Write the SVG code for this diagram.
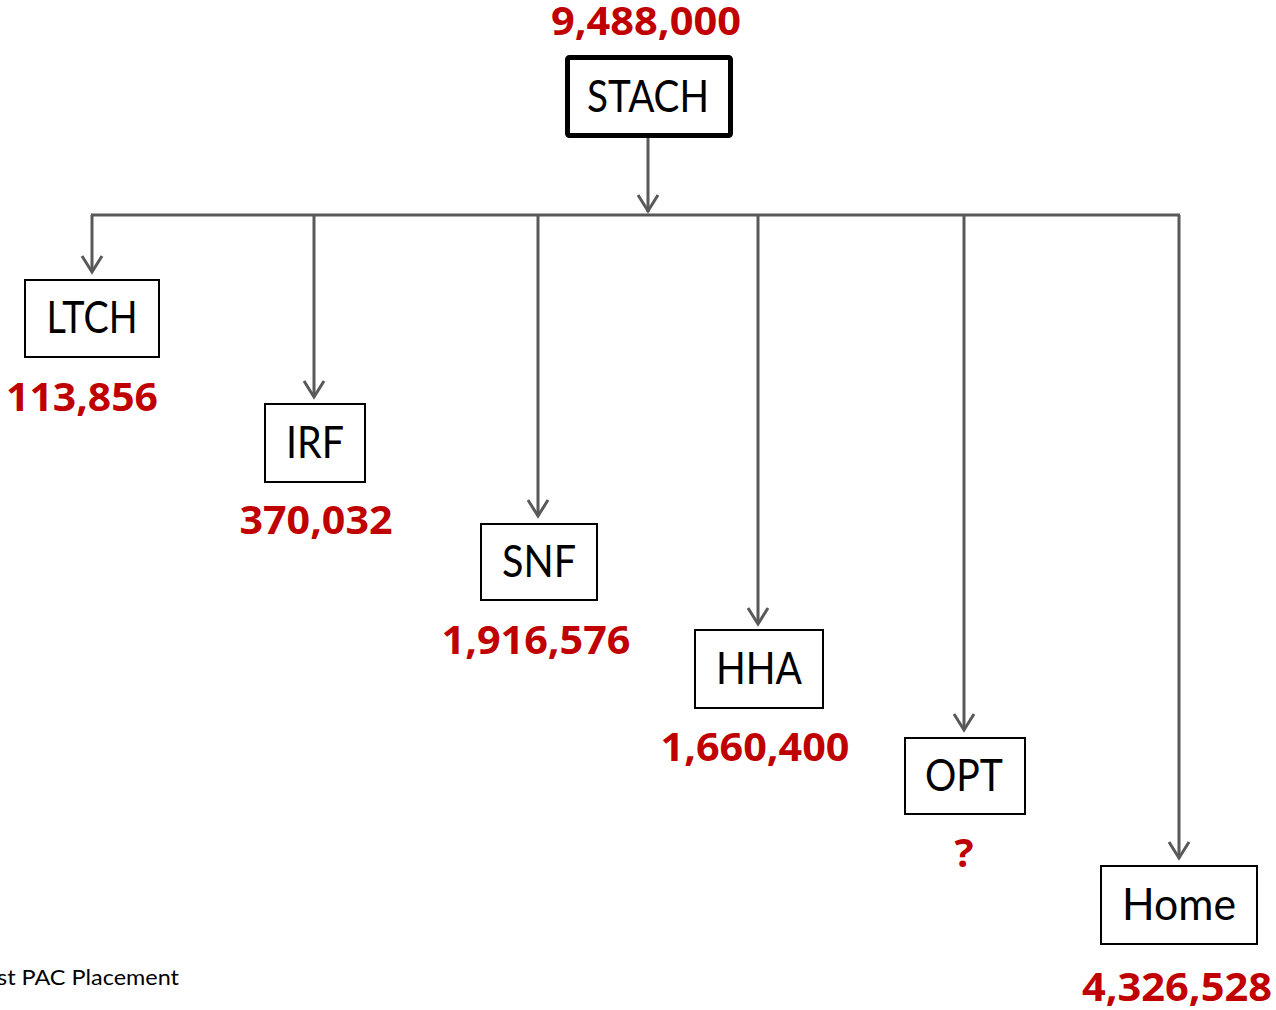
<svg xmlns="http://www.w3.org/2000/svg" width="1276" height="1010" viewBox="0 0 1276 1010">
  <style>
    .box { fill: #ffffff; stroke: #000000; stroke-width: 2; }
    .box-main { fill: #ffffff; stroke: #000000; stroke-width: 5; }
    .label { font-family: "Lato", "Liberation Sans", sans-serif; font-size: 44px; fill: #000000; text-anchor: middle; }
    .count { font-family: "Open Sans", "Liberation Sans", sans-serif; font-size: 40px; font-weight: bold; fill: #c00000; text-anchor: middle; }
    .note { font-family: "Lato", "Liberation Sans", sans-serif; font-size: 21px; fill: #000000; }
    .link { fill: none; stroke: #595959; stroke-width: 3; }
    .head { fill: none; stroke: #595959; stroke-width: 3; stroke-linejoin: miter; }
  </style>
  <defs>
    <!-- open V arrowhead, tip at the origin -->
    <path id="vhead" class="head" d="M-10,-17 L0,-1 L10,-17"/>
  </defs>

  <rect width="1276" height="1010" fill="#ffffff"/>

  <!-- connectors -->
  <g id="connectors">
    <path class="link" d="M648,138 V212"/>
    <use href="#vhead" x="648" y="212"/>
    <path class="link" d="M91,215 H1180"/>
    <path class="link" d="M92,215 V272"/>
    <use href="#vhead" x="92" y="273"/>
    <path class="link" d="M314,215 V397"/>
    <use href="#vhead" x="314" y="398"/>
    <path class="link" d="M538,215 V516"/>
    <use href="#vhead" x="538" y="517"/>
    <path class="link" d="M758,215 V624"/>
    <use href="#vhead" x="758" y="625"/>
    <path class="link" d="M964,215 V730"/>
    <use href="#vhead" x="964" y="731"/>
    <path class="link" d="M1179,215 V858"/>
    <use href="#vhead" x="1179" y="859"/>
  </g>

  <!-- nodes -->
  <g id="stach">
    <rect class="box-main" x="567.5" y="57.5" width="163" height="78" rx="2"/>
    <text class="label" x="648" y="112" textLength="122" lengthAdjust="spacingAndGlyphs">STACH</text>
    <text class="count" x="646" y="35" textLength="190" lengthAdjust="spacingAndGlyphs">9,488,000</text>
  </g>
  <g id="ltch">
    <rect class="box" x="25" y="280" width="134" height="77"/>
    <text class="label" x="92" y="333" textLength="91" lengthAdjust="spacingAndGlyphs">LTCH</text>
    <text class="count" x="82" y="411" textLength="152" lengthAdjust="spacingAndGlyphs">113,856</text>
  </g>
  <g id="irf">
    <rect class="box" x="265" y="404" width="100" height="78"/>
    <text class="label" x="315" y="458" textLength="58" lengthAdjust="spacingAndGlyphs">IRF</text>
    <text class="count" x="316" y="534" textLength="153" lengthAdjust="spacingAndGlyphs">370,032</text>
  </g>
  <g id="snf">
    <rect class="box" x="481" y="524" width="116" height="76"/>
    <text class="label" x="539" y="577" textLength="74" lengthAdjust="spacingAndGlyphs">SNF</text>
    <text class="count" x="536" y="654" textLength="189" lengthAdjust="spacingAndGlyphs">1,916,576</text>
  </g>
  <g id="hha">
    <rect class="box" x="695" y="630" width="128" height="78"/>
    <text class="label" x="759" y="684" textLength="86" lengthAdjust="spacingAndGlyphs">HHA</text>
    <text class="count" x="755" y="761" textLength="189" lengthAdjust="spacingAndGlyphs">1,660,400</text>
  </g>
  <g id="opt">
    <rect class="box" x="905" y="738" width="120" height="76"/>
    <text class="label" x="964" y="791" textLength="78" lengthAdjust="spacingAndGlyphs">OPT</text>
    <text class="count" x="964" y="867">?</text>
  </g>
  <g id="home">
    <rect class="box" x="1101" y="866" width="156" height="78"/>
    <text class="label" x="1179" y="920" textLength="114" lengthAdjust="spacingAndGlyphs">Home</text>
    <text class="count" x="1177" y="1001" textLength="190" lengthAdjust="spacingAndGlyphs">4,326,528</text>
  </g>

  <text class="note" x="-3" y="985" textLength="182" lengthAdjust="spacingAndGlyphs">st PAC Placement</text>
</svg>
